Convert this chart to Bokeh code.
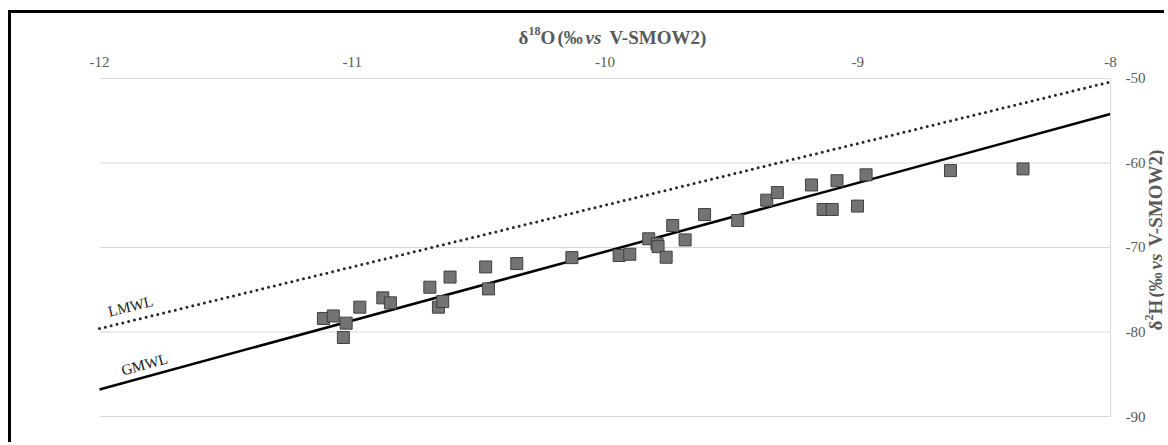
from bokeh.plotting import figure
from bokeh.models import Label, FixedTicker, Range1d
from bokeh.embed import file_html
from bokeh.resources import INLINE

# ---- data ----
d18O = [-11.114, -11.075, -11.024, -11.035, -10.970, -10.879, -10.849, -10.693,
        -10.659, -10.642, -10.613, -10.472, -10.461, -10.349, -10.131, -9.944,
        -9.902, -9.827, -9.794, -9.790, -9.758, -9.732, -9.683, -9.606, -9.475,
        -9.360, -9.318, -9.183, -9.137, -9.101, -9.082, -9.001, -8.967, -8.633,
        -8.346]
d2H = [-78.4, -78.1, -78.95, -80.65, -77.06, -75.96, -76.55, -74.7,
       -77.06, -76.4, -73.5, -72.3, -74.9, -71.9, -71.2, -70.95,
       -70.8, -68.97, -69.57, -69.9, -71.15, -67.4, -69.1, -66.1, -66.8,
       -64.4, -63.5, -62.6, -65.5, -65.5, -62.1, -65.1, -61.4, -60.9,
       -60.7]
gmwl_x = [-12, -8]
gmwl_y = [-86.8, -54.2]
lmwl_x = [-12, -8]
lmwl_y = [-79.6, -50.4]
x_ticks = [-12, -11, -10, -9, -8]
y_ticks = [-90, -80, -70, -60, -50]
# axis titles split into styled pieces: (text, style, superscript?)
x_title = [("δ", "bold", False), ("18", "bold", True), ("O", "bold", False),
           ("(‰", "bold", False), ("vs", "bold italic", False),
           ("V-SMOW2)", "bold", False)]
y_title = [("δ", "bold", False), ("2", "bold", True), ("H", "bold", False),
           ("(‰", "bold", False), ("vs", "bold italic", False),
           ("V-SMOW2)", "bold", False)]

FONT = "Liberation Serif"
GRAY = "#595959"

XMIN, YMIN = x_ticks[0], y_ticks[0]
XMAX, YMAX = x_ticks[-1], y_ticks[-1]

p = figure(width=1156, height=432,
           x_range=Range1d(-12.1503, -7.7744), y_range=Range1d(-92.2485, -42.308),
           x_axis_location="below", y_axis_location="left",
           output_backend="svg", toolbar_location=None,
           min_border_left=50, min_border_right=0,
           min_border_top=0, min_border_bottom=10)
p.styles = {"margin-left": "8px", "margin-top": "10px",
            "border-left": "3.5px solid black", "border-top": "3px solid black"}
p.outline_line_color = None
p.background_fill_color = "white"
p.border_fill_color = "white"
p.xgrid.grid_line_color = None
p.ygrid.grid_line_color = None

for ax, tk in ((p.xaxis, x_ticks), (p.yaxis, y_ticks)):
    ax.ticker = FixedTicker(ticks=tk)
    ax.major_label_overrides = {t: str(t) for t in tk}
    ax.major_tick_line_color = None
    ax.minor_tick_line_color = None
    ax.major_tick_out = 0
    ax.major_tick_in = 0
    ax.minor_tick_out = 0
    ax.minor_tick_in = 0
    ax.major_label_text_font = FONT
    ax.major_label_text_font_size = "15px"
    ax.major_label_text_color = GRAY
# x axis sits on the top edge (-50) with labels above it,
# y axis sits on the right edge (-8) with labels to its right
p.xaxis.fixed_location = YMAX
p.xaxis.bounds = (XMIN, XMAX)
p.xaxis.axis_line_color = None
p.xaxis.major_label_standoff = -21
p.yaxis.fixed_location = XMAX
p.yaxis.bounds = (YMIN, YMAX)
p.yaxis.axis_line_color = "#d9d9d9"
p.yaxis.major_label_standoff = -35

# horizontal gridlines at the y ticks, spanning the x tick range
p.segment(x0=XMIN, x1=XMAX, y0=y_ticks, y1=y_ticks,
          line_color="#d9d9d9", line_width=1)

p.line(lmwl_x, lmwl_y, line_color="#262626", line_width=3,
       line_dash="0 6", line_cap="round")
p.line(gmwl_x, gmwl_y, line_color="black", line_width=2.5)
p.scatter(d18O, d2H, marker="square", size=12, fill_color="#737373",
          line_color="#404040", line_width=1)

p.add_layout(Label(x=-11.877, y=-76.98, text="LMWL", angle=0.239,
                   text_align="center", text_baseline="middle",
                   text_font=FONT, text_font_size="15px", text_color="#222222"))
p.add_layout(Label(x=-11.822, y=-83.85, text="GMWL", angle=0.267,
                   text_align="center", text_baseline="middle",
                   text_font=FONT, text_font_size="15px", text_color="#222222"))

offsets = [0, 10, 22, 39, 67, 91]
for (t, st, sup), off in zip(x_title, offsets):
    p.add_layout(Label(x=-10.342, y=-45.15, text=t, x_offset=off,
                       y_offset=7 if sup else 0,
                       text_align="left", text_baseline="alphabetic",
                       text_font=FONT, text_font_size="12px" if sup else "19px",
                       text_font_style=st, text_color=GRAY))

offsets_y = [0, 10, 16, 33, 61, 84]
for (t, st, sup), off in zip(y_title, offsets_y):
    p.add_layout(Label(x=-7.8212, y=-79.82, text=t, x_offset=-7 if sup else 0,
                       y_offset=off, angle=1.5707963,
                       text_align="left", text_baseline="alphabetic",
                       text_font=FONT, text_font_size="12px" if sup else "19px",
                       text_font_style=st, text_color=GRAY))

open("out.html", "w").write(file_html(p, INLINE))
